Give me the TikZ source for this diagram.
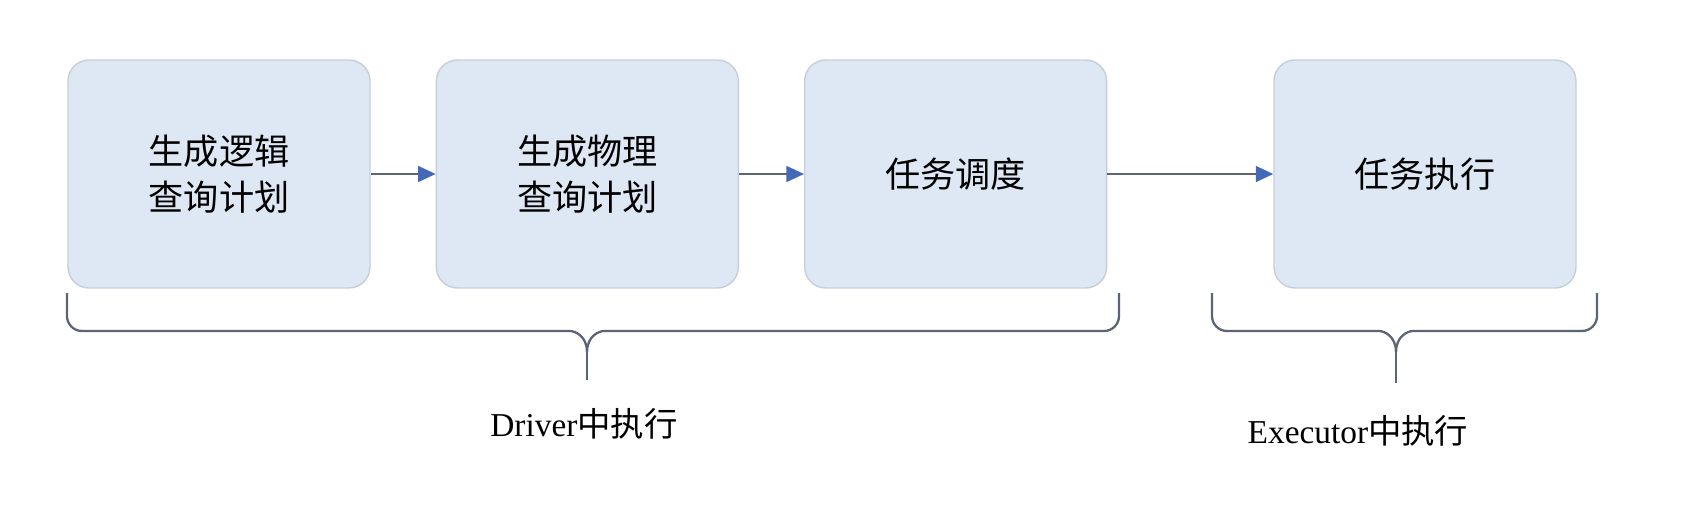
\documentclass[tikz,border=0pt]{standalone}
\usepackage{fontspec}
\setmainfont{Liberation Serif}
\newfontfamily\cjk{Noto Sans CJK SC}
\usepackage{xcolor}
\usepackage{tikz}
\usetikzlibrary{positioning}
\usetikzlibrary{arrows.meta}
\definecolor{boxfill}{HTML}{DEE8F4}
\definecolor{boxline}{HTML}{C6CED9}
\definecolor{linkline}{HTML}{5C6478}
\definecolor{headblue}{HTML}{4468B8}
\tikzset{edge/.style = {-{Triangle[length=10pt,width=9pt,fill=headblue,color=headblue]},draw=linkline,line width=1.3pt}}

\begin{document}
\begin{tikzpicture}[x=0.02cm,y=-0.02cm,node distance=1.3cm,
  stage/.style={rectangle,rounded corners=0.42cm,draw=boxline,fill=boxfill,line width=0.8pt,
    minimum width=6.04cm,minimum height=4.56cm,align=center,font=\cjk\fontsize{20}{26}\selectfont},
  brace/.style={draw=linkline,line width=1.3pt,rounded corners=0.3cm},
  where/.style={font=\fontsize{19}{22}\selectfont}]
  \useasboundingbox (0,0) rectangle (1704,531);
  \fill[white] (0,0) rectangle (1704,531);

  \node[stage] (logic) at (219,174) {生成逻辑\\查询计划};
  \node[stage] (phys) [right=of logic] {生成物理\\查询计划};
  \node[stage] (sched) [right=of phys] {任务调度};
  \node[stage] (exec) [right=3.32cm of sched] {任务执行};

  \path[edge] (logic) edge (phys);
  \path[edge] (phys) edge (sched);
  \path[edge] (sched) edge (exec);

  % braces under the stages
  \draw[brace] (67,293) -- (67,331) -- (555,331) [sharp corners] .. controls (575,331) and (587,336) .. (587,352);
  \draw[brace] (1119,293) -- (1119,331) -- (619,331) [sharp corners] .. controls (599,331) and (587,336) .. (587,352);
  \draw[draw=linkline,line width=1.3pt] (587,350) -- (587,380);

  \draw[brace] (1212,293) -- (1212,331) -- (1364,331) [sharp corners] .. controls (1384,331) and (1396,336) .. (1396,352);
  \draw[brace] (1597,293) -- (1597,331) -- (1428,331) [sharp corners] .. controls (1408,331) and (1396,336) .. (1396,352);
  \draw[draw=linkline,line width=1.3pt] (1396,350) -- (1396,383);

  \node[where] (drv) at (584,424) {Driver{\cjk 中执行}};
  \node[where] (exe) at (1358,431) {Executor{\cjk 中执行}};
\end{tikzpicture}
\end{document}
